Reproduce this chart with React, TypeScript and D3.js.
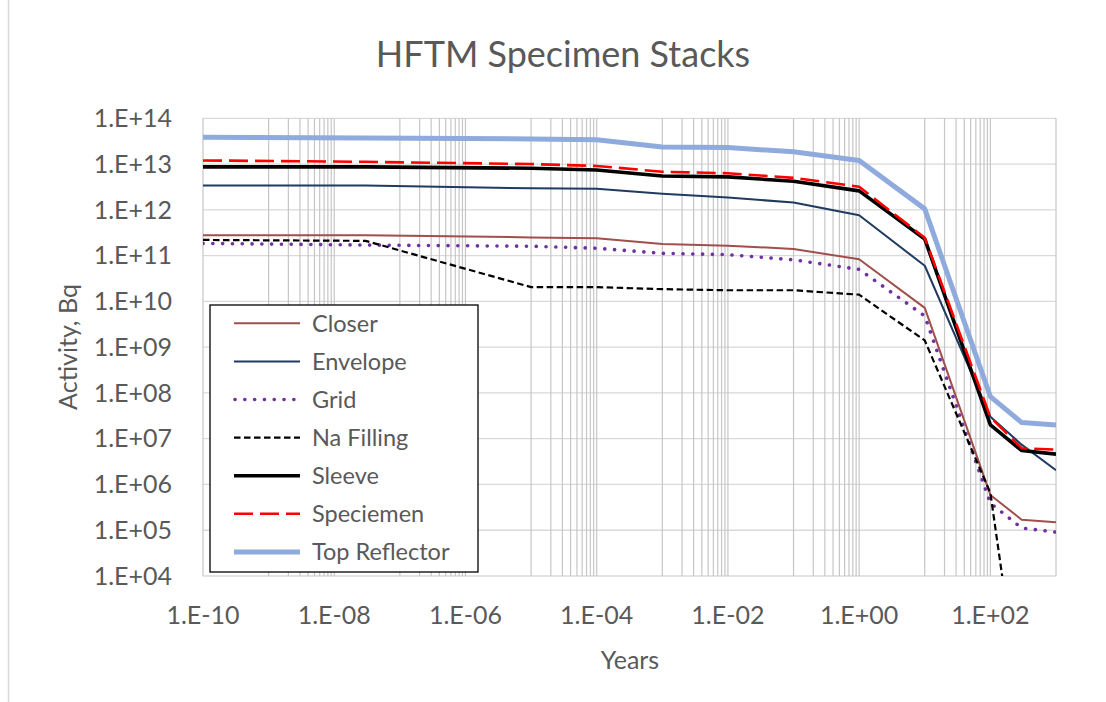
import React from 'react';
import * as d3 from 'd3';

// time points (years)
const years = [1e-10, 3e-8, 1e-5, 1e-4, 1e-3, 1e-2, 1e-1, 1, 10, 100, 300, 1000];

const closer = [2.8e11, 2.8e11, 2.5e11, 2.4e11, 1.8e11, 1.65e11, 1.4e11, 8.3e10, 7.2e9, 5.9e5, 1.7e5, 1.5e5];
const envelope = [3.4e12, 3.4e12, 2.95e12, 2.9e12, 2.25e12, 1.85e12, 1.45e12, 7.6e11, 6.0e10, 3.0e7, 7.4e6, 2.05e6];
const grid = [1.85e11, 1.7e11, 1.6e11, 1.45e11, 1.12e11, 1.05e11, 8.1e10, 5.0e10, 4.8e9, 3.9e5, 1.12e5, 9.1e4];
const naFilling = [2.2e11, 2.1e11, 2.05e10, 2.05e10, 1.85e10, 1.75e10, 1.75e10, 1.4e10, 1.4e9, 6.5e5, 10, 1];
const sleeve = [8.7e12, 8.7e12, 8.1e12, 7.4e12, 5.5e12, 5.25e12, 4.2e12, 2.6e12, 2.3e11, 2.0e7, 5.5e6, 4.6e6];
const speciemen = [1.2e13, 1.12e13, 1.0e13, 9.1e12, 6.8e12, 6.3e12, 5.0e12, 3.2e12, 2.45e11, 2.95e7, 6.2e6, 5.75e6];
const topReflector = [3.85e13, 3.7e13, 3.55e13, 3.4e13, 2.35e13, 2.3e13, 1.85e13, 1.2e13, 1.05e12, 8.3e7, 2.25e7, 2.0e7];

const xTickExps = [-10, -8, -6, -4, -2, 0, 2];
const yTickExps = [4, 5, 6, 7, 8, 9, 10, 11, 12, 13, 14];

const series = [
  { name: 'Closer', values: closer, color: '#a04f4c', width: 2, dash: null, cap: 'butt' },
  { name: 'Envelope', values: envelope, color: '#203a60', width: 2, dash: null, cap: 'butt' },
  { name: 'Grid', values: grid, color: '#7030a0', width: 3.6, dash: '0.1 9.7', cap: 'round' },
  { name: 'Na Filling', values: naFilling, color: '#000000', width: 2.2, dash: '6.5 3.5', cap: 'butt' },
  { name: 'Sleeve', values: sleeve, color: '#000000', width: 3.6, dash: null, cap: 'butt' },
  { name: 'Speciemen', values: speciemen, color: '#ff0000', width: 2.6, dash: '19 7', cap: 'butt' },
  { name: 'Top Reflector', values: topReflector, color: '#8faadc', width: 5, dash: null, cap: 'butt' },
];

const fmt = (e: number) => `1.E${e < 0 ? '-' : '+'}${String(Math.abs(e)).padStart(2, '0')}`;

const App = () => {
  const W = 1106, H = 702;
  const left = 203, right = 1056, top = 118.3, bottom = 576;
  const font = 'Lato, "Open Sans", sans-serif';
  const textColor = '#595959';

  const x = d3.scaleLog().domain([1e-10, 1e3]).range([left, right]);
  const y = d3.scaleLog().domain([1e4, 1e14]).range([bottom, top]);

  // major lines on even decades, minor lines through the odd ones
  const vLines: number[] = [];
  for (let e = -10; e <= 3; e++) {
    if (e % 2 === 0) vLines.push(Math.pow(10, e));
    else for (let k = 1; k <= 9; k++) vLines.push(k * Math.pow(10, e));
  }
  const vVisible = vLines.filter(v => v <= 1e3 * 1.0001);

  const line = d3.line<number>()
    .x((_, i) => x(years[i]))
    .y(d => y(d));

  const legX = 210, legY = 305, legW = 268, legH = 267;

  return (
    <svg width={W} height={H} style={{ position: 'absolute', left: 0, top: 0, background: '#fff' }}>
      <line x1={8.5} x2={8.5} y1={0} y2={H} stroke="#d9d9d9" strokeWidth={1.5} />
      <defs>
        <clipPath id="plot">
          <rect x={left} y={top} width={right - left} height={bottom - top} />
        </clipPath>
      </defs>
      <text x={563} y={67} textAnchor="middle" fontFamily={font} fontSize={36} fill={textColor}>
        HFTM Specimen Stacks
      </text>

      {yTickExps.map(e => (
        <line key={'h' + e} x1={left} x2={right} y1={y(Math.pow(10, e))} y2={y(Math.pow(10, e))}
          stroke="#d9d9d9" strokeWidth={1.3} />
      ))}
      {vVisible.map((v, i) => (
        <line key={'v' + i} x1={x(v)} x2={x(v)} y1={top} y2={bottom} stroke="#c6c6c6" strokeWidth={1.2} />
      ))}

      {yTickExps.map(e => (
        <text key={'yt' + e} x={172} y={y(Math.pow(10, e))} dy="0.35em" textAnchor="end"
          fontFamily={font} fontSize={25} fill={textColor}>{fmt(e)}</text>
      ))}
      {xTickExps.map(e => (
        <text key={'xt' + e} x={x(Math.pow(10, e))} y={624} textAnchor="middle"
          fontFamily={font} fontSize={25} fill={textColor}>{fmt(e)}</text>
      ))}

      <text x={630} y={669} textAnchor="middle" fontFamily={font} fontSize={25} fill={textColor}>Years</text>
      <text transform="translate(77,347) rotate(-90)" textAnchor="middle" fontFamily={font} fontSize={25}
        fill={textColor}>Activity, Bq</text>

      <g clipPath="url(#plot)">
        {series.map(s => (
          <path key={s.name} d={line(s.values) || ''} fill="none" stroke={s.color} strokeWidth={s.width}
            strokeDasharray={s.dash || undefined} strokeLinecap={s.cap as any} strokeLinejoin="round" />
        ))}
      </g>

      <rect x={legX} y={legY} width={legW} height={legH} fill="#fff" stroke="#000" strokeWidth={1.3} />
      {series.map((s, i) => {
        const cy = 323.3 + i * 38.1;
        return (
          <g key={'lg' + s.name}>
            <line x1={s.cap === 'round' ? 235 : 234} x2={300} y1={cy} y2={cy} stroke={s.color} strokeWidth={s.width}
              strokeDasharray={s.dash || undefined} strokeLinecap={s.cap as any} />
            <text x={312} y={cy} dy="0.35em" fontFamily={font} fontSize={23.5} fill={textColor}>{s.name}</text>
          </g>
        );
      })}
    </svg>
  );
};

export default App;
